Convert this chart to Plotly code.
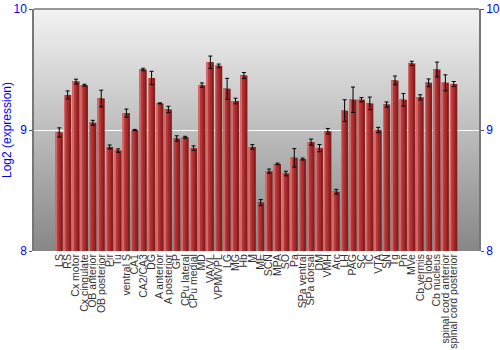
import base64
import plotly.graph_objects as go

regions = ["LS", "RS", "Cx motor", "Cx cingulate", "OB anterior", "OB posterior", "Pir", "Tu",
           "ventral S", "CA1", "CA2/CA3", "DG", "A anterior", "A posterior", "GP", "CPu lateral",
           "CPu medial", "MD", "VA/VL", "VPM/VPL", "LG", "MG", "Hb", "M", "ME", "SCN", "MPA", "SO",
           "Pa", "SPa ventral", "SPa dorsal", "DM", "VMH", "Arc", "LH", "PAG", "SC", "IC", "VTA",
           "SN", "Tg", "Pn", "MVe", "Cb vermis", "Cb lobe", "Cb nucleus", "spinal cord anterior",
           "spinal cord posterior"]
expression = [8.98, 9.29, 9.40, 9.37, 9.06, 9.26, 8.86, 8.83,
              9.14, 9.00, 9.50, 9.43, 9.22, 9.17, 8.93, 8.94,
              8.85, 9.37, 9.56, 9.53, 9.34, 9.24, 9.45, 8.86, 8.40, 8.66, 8.72, 8.64,
              8.77, 8.76, 8.90, 8.85, 8.99, 8.49, 9.16, 9.25, 9.25, 9.22, 9.00,
              9.21, 9.41, 9.25, 9.55, 9.27, 9.39, 9.50, 9.39,
              9.38]
error = [0.038, 0.033, 0.020, 0.008, 0.020, 0.069, 0.016, 0.014,
         0.033, 0.005, 0.010, 0.055, 0.004, 0.026, 0.022, 0.008,
         0.019, 0.019, 0.051, 0.015, 0.087, 0.023, 0.025, 0.019, 0.025, 0.017, 0.006, 0.019,
         0.076, 0.008, 0.025, 0.030, 0.023, 0.019, 0.090, 0.105, 0.018, 0.052, 0.022,
         0.022, 0.036, 0.052, 0.018, 0.021, 0.032, 0.061, 0.066,
         0.021]
y_ticks = [8, 9, 10]

svg = ('<svg xmlns="http://www.w3.org/2000/svg" width="10" height="100" preserveAspectRatio="none">'
       '<defs><linearGradient id="g" x1="0" y1="0" x2="0" y2="1">'
       '<stop offset="0" stop-color="#f3f3f3"/><stop offset="1" stop-color="#878787"/>'
       '</linearGradient></defs><rect width="10" height="100" fill="url(#g)"/></svg>')
bg_src = "data:image/svg+xml;base64," + base64.b64encode(svg.encode()).decode()

fig = go.Figure()
layers = [(0.84, -0.42, "#861c1c"), (0.62, -0.42, "#a02828"), (0.40, -0.42, "#b53636"),
          (0.20, -0.42, "#c04444"), (0.08, -0.42, "#d06a6a")]
for w, off, col in layers:
    fig.add_trace(go.Bar(x=regions, y=expression, width=w, offset=off,
                         marker=dict(color=col, line=dict(width=0)),
                         hoverinfo="skip", showlegend=False))
fig.add_trace(go.Scatter(x=regions, y=expression, mode="markers",
                         marker=dict(size=1, color="rgba(0,0,0,0)"),
                         error_y=dict(type="data", array=error, color="#000000",
                                      thickness=1, width=2),
                         showlegend=False))
fig.add_trace(go.Scatter(x=regions, y=expression, yaxis="y2", mode="markers",
                         marker=dict(size=1, color="rgba(0,0,0,0)"),
                         showlegend=False, hoverinfo="skip"))

axis_common = dict(range=[8, 10], tickvals=y_ticks, ticktext=[str(t) for t in y_ticks],
                   tickfont=dict(family="Liberation Sans, Arial", size=12, color="#0000ff"),
                   ticks="outside", ticklen=3, tickcolor="#555555", automargin=False,
                   showline=True, linecolor="#777777", linewidth=1.5, zeroline=False)

fig.update_layout(
    width=500, height=350,
    margin=dict(l=34, r=21, t=9, b=99),
    paper_bgcolor="#ffffff",
    plot_bgcolor="rgba(0,0,0,0)",
    barmode="overlay",
    images=[dict(source=bg_src, xref="paper", yref="paper", x=0, y=1, sizex=1, sizey=1,
                 sizing="stretch", layer="below", xanchor="left", yanchor="top")],
    xaxis=dict(tickmode="array", tickvals=regions, ticktext=regions, tickangle=-90,
               tickfont=dict(family="Liberation Sans, Arial", size=10.5, color="#333333"),
               ticklabeloverflow="allow", ticklabelstandoff=0,
               showline=False, ticks="", showgrid=False, automargin=False),
    yaxis=dict(**axis_common, side="left", showgrid=True, gridcolor="#ffffff", gridwidth=1,
               title=dict(text="Log2 (expression)", standoff=2,
                          font=dict(family="Liberation Sans, Arial", size=12, color="#0000ff"))),
    yaxis2=dict(**axis_common, side="right", overlaying="y", showgrid=False),
    shapes=[dict(type="line", xref="paper", yref="paper", x0=0, x1=1, y0=1, y1=1,
                 line=dict(color="#777777", width=1.5))],
)

fig.write_html("out.html")
